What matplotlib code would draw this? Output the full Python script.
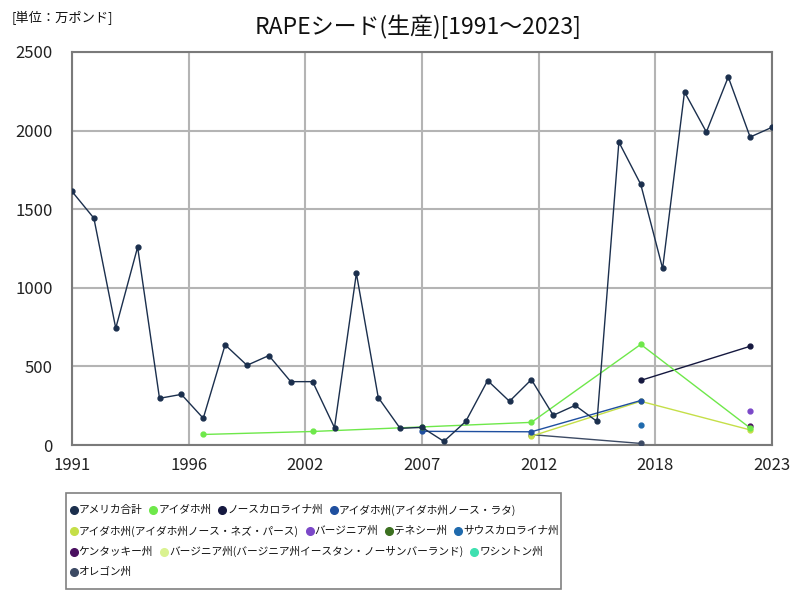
import matplotlib
matplotlib.use("Agg")
import matplotlib.pyplot as plt
from matplotlib.lines import Line2D
from matplotlib.patches import Rectangle
import numpy as np

plt.rcParams['font.family'] = ['Noto Sans CJK JP', 'DejaVu Sans']

title = "RAPEシード(生産)[1991～2023]"
unit_label = "[単位：万ポンド]"

us_years = list(range(1991, 2024))
us_vals = [1613, 1443, 743, 1259, 297, 322, 170, 637, 507, 569, 403, 403, 110, 1092,
           302, 106, 112, 23, 150, 410, 278, 416, 189, 252, 150, 1927, 1658, 1123,
           2246, 1991, 2341, 1959, 2021]

idaho_years = [1997, 2002, 2007, 2012, 2017, 2022]
idaho_vals = [67, 86, 115, 144, 640, 108]

nc_years = [2017, 2022]
nc_vals = [411, 628]

latah_years = [2007, 2012, 2017]
latah_vals = [87, 84, 283]

nezperce_years = [2012, 2017, 2022]
nezperce_vals = [56, 278, 96]

virginia_years = [2022]
virginia_vals = [218]

tennessee_years = []
tennessee_vals = []

sc_years = [2017]
sc_vals = [130]

kentucky_years = [2022]
kentucky_vals = [119]

va_east_years = []
va_east_vals = []

washington_years = []
washington_vals = []

oregon_years = [2012, 2017]
oregon_vals = [66, 10]

series = [
    ("アメリカ合計", us_years, us_vals, "#1b2f4d"),
    ("アイダホ州", idaho_years, idaho_vals, "#6ee84a"),
    ("ノースカロライナ州", nc_years, nc_vals, "#15183f"),
    ("アイダホ州(アイダホ州ノース・ラタ)", latah_years, latah_vals, "#1f4f9f"),
    ("アイダホ州(アイダホ州ノース・ネズ・パース)", nezperce_years, nezperce_vals, "#c5df48"),
    ("バージニア州", virginia_years, virginia_vals, "#7b48c8"),
    ("テネシー州", tennessee_years, tennessee_vals, "#3c7020"),
    ("サウスカロライナ州", sc_years, sc_vals, "#1f6aad"),
    ("ケンタッキー州", kentucky_years, kentucky_vals, "#4a1060"),
    ("バージニア州(バージニア州イースタン・ノーサンバーランド)", va_east_years, va_east_vals, "#daf290"),
    ("ワシントン州", washington_years, washington_vals, "#3ee0b0"),
    ("オレゴン州", oregon_years, oregon_vals, "#3c4a64"),
]

W, H = 800, 600
fig = plt.figure(figsize=(8, 6), dpi=100)
ax = fig.add_axes([72 / W, 1 - 445 / H, 700 / W, 393 / H])

for name, xs, ys, col in reversed(series):
    if len(xs) == 0:
        continue
    ax.plot(xs, ys, color=col, lw=1.0, marker='o', markersize=3.5, zorder=3)

ax.set_xlim(1991, 2023)
ax.set_ylim(0, 2500)
xt = np.linspace(1991, 2023, 7)
ax.set_xticks(xt)
ax.set_xticklabels([str(int(round(v))) for v in xt])
ax.set_yticks([0, 500, 1000, 1500, 2000, 2500])
ax.grid(True, color='#b4b4b4', lw=1.5, zorder=0)
ax.set_axisbelow(True)
for s in ax.spines.values():
    s.set_color('#7a7a7a')
    s.set_linewidth(1.5)
ax.tick_params(length=0, labelsize=12, colors='#222222')
ax.tick_params(axis='y', pad=14)
ax.tick_params(axis='x', pad=9)

fig.text(418 / W, 1 - 27 / H, title, ha='center', va='center', fontsize=16.5, color='#111111')
fig.text(12 / W, 1 - 18 / H, unit_label, ha='left', va='center', fontsize=9.5, color='#111111')

# legend box (flow layout)
box_l, box_t, box_r, box_b = 66, 493, 561, 589
fig.add_artist(Rectangle((box_l / W, 1 - box_b / H), (box_r - box_l) / W, (box_b - box_t) / H,
                         transform=fig.transFigure, fill=False, edgecolor='#808080', lw=1.2))
row_counts = [4, 4, 3, 1]
row_y = [510, 531, 551.5, 572]
renderer = fig.canvas.get_renderer()
idx = 0
for r, cnt in enumerate(row_counts):
    x = 73.5
    y = row_y[r]
    for k in range(cnt):
        name, xs, ys, col = series[idx]
        idx += 1
        fig.add_artist(Line2D([x / W], [1 - y / H], marker='o', markersize=5.5, color=col,
                              transform=fig.transFigure, lw=0))
        t = fig.text((x + 5) / W, 1 - y / H, name, ha='left', va='center', fontsize=7.7,
                     color='#111111')
        bb = t.get_window_extent(renderer)
        x = x + 5 + bb.width + 11

fig.savefig("out.png", dpi=100)
